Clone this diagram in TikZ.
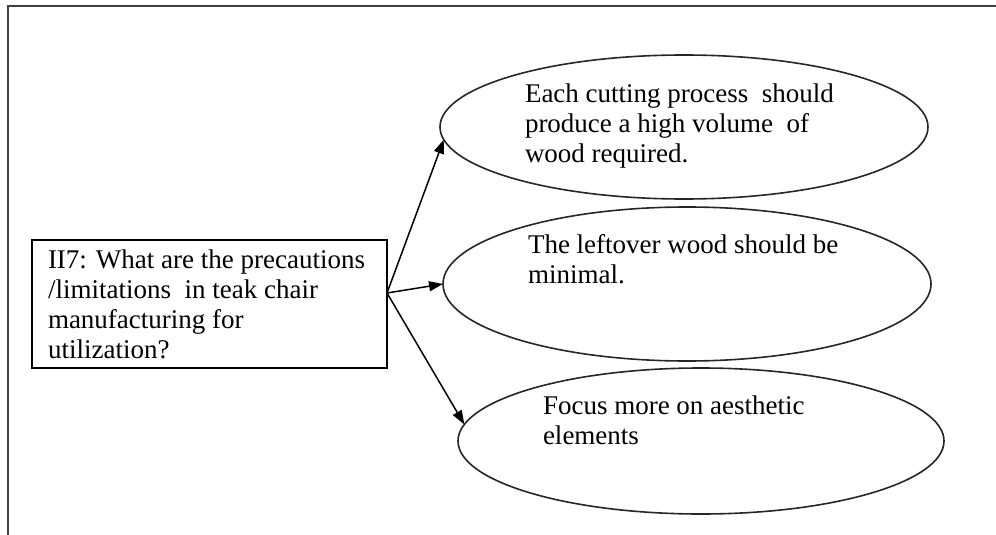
\documentclass[tikz,border=0pt]{standalone}
\usepackage{fontspec}
\setmainfont{Liberation Serif}
\usetikzlibrary{shapes.geometric,arrows.meta}
\begin{document}
\begin{tikzpicture}[x=1pt,y=-1pt,
  every node/.style={inner sep=0pt,outer sep=0pt},
  bubble/.style={draw=black!85,line width=1.6pt,ellipse},
  qbox/.style={draw=black,line width=1.6pt,rectangle},
  label text/.style={align=left,anchor=base west,
    font=\fontsize{27pt}{30pt}\selectfont},
  arr/.style={line width=1.5pt,-{Triangle[length=14pt,width=10pt]}},
  frameline/.style={draw=black!75,line width=2.6pt}]
  \useasboundingbox (0,0) rectangle (996,535);
  % open frame: top and left edges only
  \coordinate (ftr) at (996,6);
  \coordinate (ftl) at (8,6);
  \coordinate (fbl) at (8,535);
  \draw[frameline] (ftr) -- (ftl) -- (fbl);

  % question box (text anchored at the baseline of its last line)
  \node[qbox,minimum width=355pt,minimum height=128pt] (q) at (209.5,304) {};
  \node[label text] (qt) at (48,358)
    {II7: What are the precautions\\/limitations\ \ in teak chair\\manufacturing for\\utilization?};

  % answer ellipses
  \node[bubble,minimum width=488pt,minimum height=144pt] (e1) at (684,127) {};
  \node[bubble,minimum width=488pt,minimum height=154pt] (e2) at (687,284) {};
  \node[bubble,minimum width=486pt,minimum height=146pt] (e3) at (701,441) {};

  \node[label text] (t1) at (525,162)
    {Each cutting process\ \ should\\produce a high volume\ \ of\\wood required.};
  \node[label text] (t2) at (528,283)
    {The leftover wood should be\\minimal.};
  \node[label text] (t3) at (543,444)
    {Focus more on aesthetic\\elements};

  % connectors
  \coordinate (hub) at (387,293);
  \draw[arr] (hub) -- (e1.183);
  \draw[arr] (hub) -- (e2.180);
  \draw[arr] (hub) -- (e3.176);
\end{tikzpicture}
\end{document}
